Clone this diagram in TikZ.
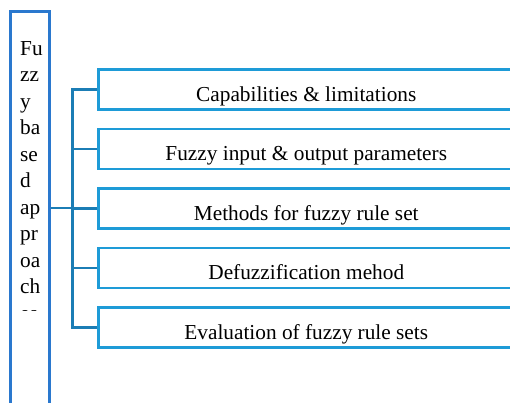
\documentclass[tikz,border=0pt]{standalone}
\usepackage{fontspec}
\setmainfont{Liberation Serif}
\definecolor{mainblue}{HTML}{2A78CE}
\definecolor{linkblue}{HTML}{1B7DB5}
\definecolor{itemblue}{HTML}{1E9BD7}
\tikzset{
  rootbox/.style={draw=mainblue, line width=2.5pt, inner sep=0pt,
    minimum width=39pt, minimum height=420pt, anchor=north west},
  rootline/.style={inner sep=0pt, anchor=base west,
    font=\fontsize{21.3}{26.3}\selectfont},
  itembox/.style={draw=itemblue, line width=2.5pt, inner sep=0pt,
    minimum width=416pt, minimum height=40pt, anchor=north west,
    text height=24pt, text depth=0pt,
    font=\fontsize{21.3}{26.3}\selectfont},
  link/.style={draw=linkblue, line width=2.5pt}
}
\begin{document}
\begin{tikzpicture}[x=1pt,y=-1pt]
\useasboundingbox (0,0) rectangle (510,402);
\clip (0,0) rectangle (510,402);

% tall root box, running off the bottom edge
\node[rootbox] (root) at (9,10) {};

% root label, one short fragment per line, cut off below the tenth line
\begin{scope}
  \clip (0,0) rectangle (510,310.5);
  \foreach \t [count=\k from 0] in {Fu,zz,y,ba,se,d,ap,pr,oa,ch,es}
    \node[rootline] (r\k) at (20,55+26.5*\k) {\t};
\end{scope}

% branch boxes
\foreach \t [count=\i] in {Capabilities \& limitations,
                           Fuzzy input \& output parameters,
                           Methods for fuzzy rule set,
                           Defuzzification mehod,
                           Evaluation of fuzzy rule sets}
  \node[itembox] (b\i) at (97,68+59.5*\i-59.5) {\t};

% tree connectors
\coordinate (hub) at (72.5,208);
\draw[link] (hub -| root.east) -- (hub);
\draw[link, line cap=rect] (b1.west -| hub) -- (b5.west -| hub);
\foreach \i in {1,...,5}
  \draw[link] (b\i.west -| hub) -- (b\i.west);
\end{tikzpicture}
\end{document}
